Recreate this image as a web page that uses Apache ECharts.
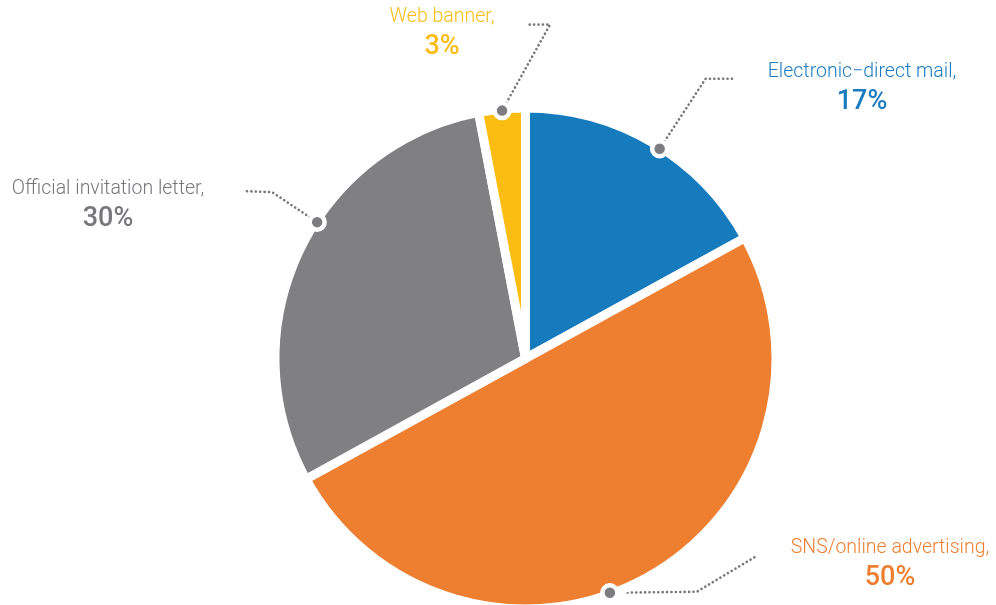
<!DOCTYPE html>
<html lang="en">
<head>
  <meta charset="UTF-8">
  <title>Pie</title>
  <style>html, body { margin: 0; padding: 0; background: #fff; }</style>
</head>
<body>
  <div id="echarts" style="width: 996px; height: 605px;"></div>
  <script src="https://cdn.jsdelivr.net/npm/echarts@6/dist/echarts.min.js"></script>
  <script>
    const categories = ['Electronic\u2212direct mail', 'SNS/online advertising', 'Official invitation letter', 'Web banner'];
    const shares = [17, 50, 30, 3];
    const colors = ['#167bbd', '#ee7f31', '#808083', '#fcbd12'];
    const textColors = ['#1b7dc1', '#ee7f31', '#77777b', '#fbbc14'];

    // label centres and the bends of the dotted leaders (offsets from the dot)
    const labelAt = [[862, 88], [890, 564], [108, 205], [442, 33]];
    const bend = [[46, -70], [87, -1], [-45, -30], [48, -86]];
    const lineEnd = [[73, -70], [147, -37], [-73, -31], [24, -86]];
    const dotShift = [2, 9, 8, 0]; // degrees past the middle of the slice

    const chart = echarts.init(document.getElementById('echarts'));
    chart.setOption({
      animation: false,
      series: [{
        type: 'pie',
        center: [525.5, 358.5],
        radius: 250.5,
        startAngle: 90,
        clockwise: true,
        avoidLabelOverlap: false,
        itemStyle: { borderColor: '#fff', borderWidth: 9 },
        label: {
          formatter: '{n|{b},}\n{p|{d}%}',
          rich: {
            n: { fontFamily: 'Roboto', fontWeight: 300, fontSize: 19.5, lineHeight: 28, align: 'center' },
            p: { fontFamily: 'Roboto', fontWeight: 500, fontSize: 27, lineHeight: 32, align: 'center' }
          }
        },
        labelLine: {
          show: true,
          lineStyle: { color: '#77777a', width: 2.6, type: [0.1, 4.3], cap: 'round' }
        },
        data: categories.map((name, i) => ({
          name: name,
          value: shares[i],
          itemStyle: { color: colors[i] },
          label: { color: textColors[i] }
        }))
      }]
    });

    // grey dots sit on the rim of each slice
    const pieData = chart.getModel().getSeriesByIndex(0).getData();
    const dots = shares.map((v, i) => {
      const l = pieData.getItemLayout(i);
      const a = (l.startAngle + l.endAngle) / 2 + dotShift[i] * Math.PI / 180;
      const r = l.r - 1.5;
      return [l.cx + r * Math.cos(a), l.cy + r * Math.sin(a)];
    });

    chart.setOption({
      series: [{
        labelLayout: function (p) {
          const i = p.dataIndex;
          const d = dots[i];
          return {
            x: labelAt[i][0],
            y: labelAt[i][1],
            align: 'center',
            verticalAlign: 'middle',
            labelLinePoints: [
              [d[0], d[1]],
              [d[0] + bend[i][0], d[1] + bend[i][1]],
              [d[0] + lineEnd[i][0], d[1] + lineEnd[i][1]]
            ]
          };
        }
      }],
      graphic: dots.map(d => ({
        type: 'circle',
        z: 100,
        shape: { cx: d[0], cy: d[1], r: 7.5 },
        style: { fill: '#7d7d80', stroke: '#fff', lineWidth: 4.5 }
      }))
    });
  </script>
</body>
</html>
